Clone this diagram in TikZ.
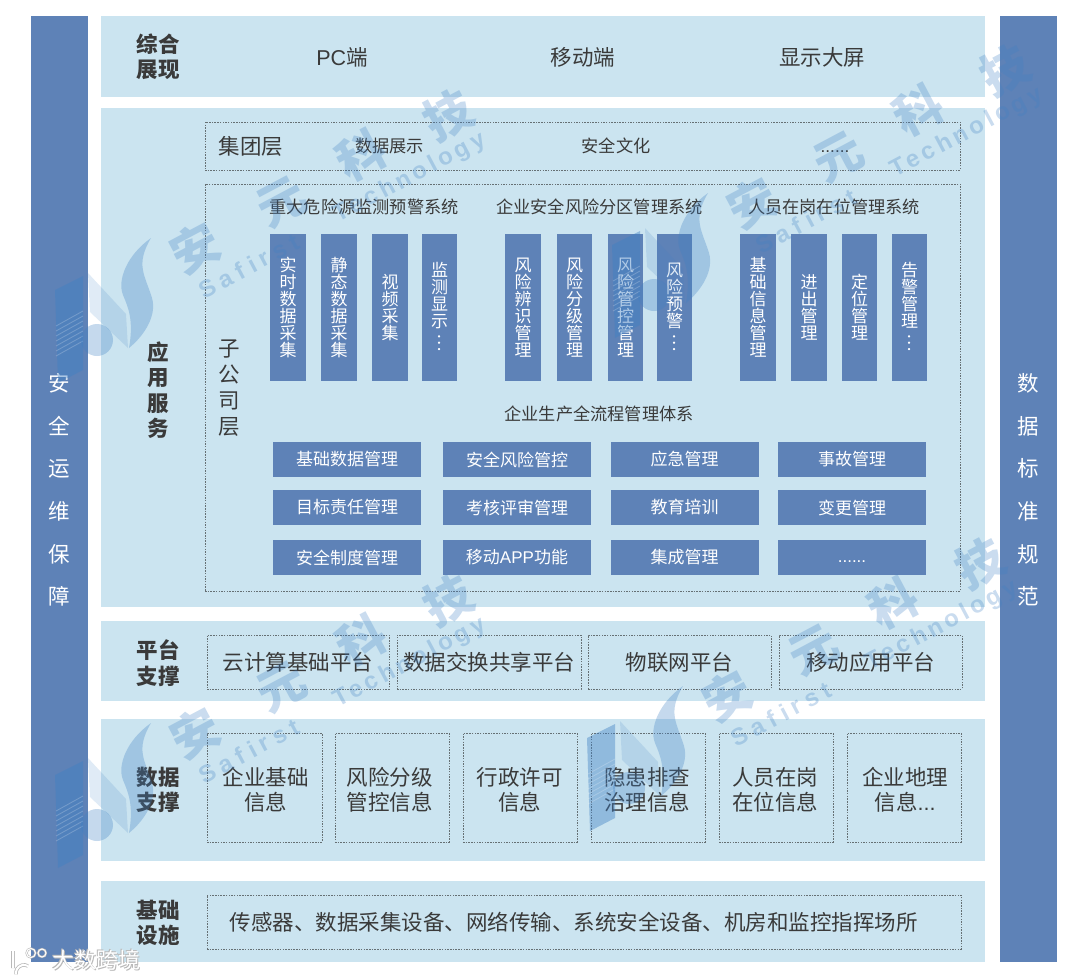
\documentclass[tikz,border=0pt]{standalone}
\usepackage{fontspec}
\setmainfont{Noto Sans CJK SC}
\newfontfamily\latinfont{Liberation Sans}
\definecolor{panelblue}{HTML}{CBE4F0}
\definecolor{barblue}{HTML}{5E82B7}
\definecolor{inktext}{HTML}{3A3A3A}
\definecolor{dashgray}{HTML}{667074}
\definecolor{wmblue}{HTML}{3F80C4}
\newcommand{\vdotsbar}{\rotatebox[origin=c]{90}{…}}
\tikzset{
  panel/.style={fill=panelblue, inner sep=0pt, outer sep=0pt},
  sidebar/.style={fill=barblue, text=white, inner sep=0pt, align=center,
                  minimum width=57pt, minimum height=946pt,
                  font=\fontsize{21.5}{42.6}\selectfont},
  rowlabel/.style={text=inktext, inner sep=0pt, align=center,
                   font=\fontsize{21.5}{25.5}\selectfont\bfseries},
  bigtext/.style={text=inktext, inner sep=0pt, align=center,
                  font=\fontsize{21.5}{25}\selectfont},
  midtext/.style={text=inktext, inner sep=0pt, align=center,
                  font=\fontsize{17.2}{20}\selectfont},
  dashbox/.style={draw=dashgray, dash pattern=on 1.5pt off 1.2pt, line width=0.5pt,
                  inner sep=0pt, align=center, text=inktext,
                  font=\fontsize{21.5}{25}\selectfont},
  vbar/.style={fill=barblue, text=white, inner sep=0pt, align=center,
               minimum width=35.5pt, minimum height=147pt,
               font=\fontsize{17}{17}\selectfont},
  hcell/.style={fill=barblue, text=white, inner sep=0pt,
                minimum width=148pt, minimum height=35pt,
                font=\fontsize{17}{20}\selectfont},
  wmchar/.style={text=wmblue, text opacity=0.28, inner sep=0pt, rotate=28,
                 font=\fontsize{48}{50}\selectfont\bfseries},
  wmword/.style={text=wmblue, text opacity=0.28, inner sep=0pt, rotate=28},
  cornertext/.style={inner sep=0pt, font=\fontsize{22}{24}\selectfont},
  pics/wmark/.style={code={
    \fill[wmblue, opacity=0.42] (0,0) -- (28,-14) -- (28,80) -- (3,93) -- cycle;
    \foreach \i in {0,...,6}
      \draw[white, opacity=0.2, line width=0.9pt] (1,36+5*\i) -- (28,21+5*\i);
    \fill[wmblue, opacity=0.16] (33,-17) -- (71,24) -- (73,58) -- (35,22) -- cycle;
    \fill[wmblue, opacity=0.3] (42,50) circle (16);
    \fill[wmblue, opacity=0.3] (96,-52) .. controls (72,-35) and (62,-10) .. (68,5)
      .. controls (73,17) and (79,30) .. (74,58)
      .. controls (90,45) and (102,25) .. (97,8)
      .. controls (90,-15) and (80,-25) .. (96,-52) -- cycle;
    \node[wmchar] (c1) at (140,-42) {安};
    \node[wmchar] (c2) at (227,-88) {元};
    \node[wmchar] (c3) at (306,-135) {科};
    \node[wmchar] (c4) at (393,-175) {技};
    \node[wmword, font={\fontsize{24}{26}\latinfont\addfontfeature{LetterSpace=24}\bfseries}] (w1) at (194,-24) {Safirst};
    \node[wmword, font={\fontsize{24}{26}\latinfont\addfontfeature{LetterSpace=16}\bfseries}] (w2) at (355,-112) {Technology};
  }},
}

\begin{document}
\begin{tikzpicture}[x=1pt, y=-1pt]
    \useasboundingbox (0,0) rectangle (1080,980);
    % side bars
    \node[sidebar] (leftbar) at (59.5,489) {};
    \node[sidebar] (rightbar) at (1028.5,489) {};
    \node[sidebar, fill=none, minimum height=0pt] (lefttext) at (59.5,490) {安\\全\\运\\维\\保\\障};
    \node[sidebar, fill=none, minimum height=0pt] (righttext) at (1028.5,490) {数\\据\\标\\准\\规\\范};
    % layers
    \node[panel, minimum width=884pt, minimum height=81pt] (show) at (543,56.5) {};
    \node[panel, minimum width=884pt, minimum height=499pt] (app) at (543,357.5) {};
    \node[panel, minimum width=884pt, minimum height=80pt] (plat) at (543,661) {};
    \node[panel, minimum width=884pt, minimum height=142pt] (data) at (543,790) {};
    \node[panel, minimum width=884pt, minimum height=81pt] (base) at (543,921.5) {};
    \node[rowlabel] (showlabel) at (158,57) {综合\\展现};
    \node[rowlabel] (applabel) at (158,390) {应\\用\\服\\务};
    \node[rowlabel] (platlabel) at (158,663) {平台\\支撑};
    \node[rowlabel] (datalabel) at (158,790) {数据\\支撑};
    \node[rowlabel] (baselabel) at (158,923) {基础\\设施};
    % top row
    \node[bigtext] (pc) at (342,57) {{\latinfont PC}端};
    \node[bigtext] (mobile) at (583,57) {移动端};
    \node[bigtext] (screen) at (822,57) {显示大屏};
    % group level
    \node[dashbox, minimum width=755pt, minimum height=48pt] (group) at (582.5,146) {};
    \node[bigtext] (grouplabel) at (251,146) {集团层};
    \node[midtext] (g1) at (389.5,146) {数据展示};
    \node[midtext] (g2) at (616,146) {安全文化};
    \node[midtext] (g3) at (835,146) {\raisebox{-6pt}[0pt][0pt]{\latinfont ......}};
    % subsidiary level
    \node[dashbox, minimum width=755pt, minimum height=407pt] (sub) at (582.5,387.5) {};
    \node[bigtext, font=\fontsize{21.5}{26}\selectfont] (sublabel) at (229,388) {子\\公\\司\\层};
    \node[midtext] (sys1) at (364,207) {重大危险源监测预警系统};
    \node[midtext] (sys2) at (599.5,207) {企业安全风险分区管理系统};
    \node[midtext] (sys3) at (834,207) {人员在岗在位管理系统};
    \node[vbar] (a1) at (288,307.5) {实\\时\\数\\据\\采\\集};
    \node[vbar] (a2) at (339,307.5) {静\\态\\数\\据\\采\\集};
    \node[vbar] (a3) at (390,307.5) {视\\频\\采\\集};
    \node[vbar] (a4) at (439.5,307.5) {监\\测\\显\\示\\\vdotsbar};
    \node[vbar] (b1) at (523,307.5) {风\\险\\辨\\识\\管\\理};
    \node[vbar] (b2) at (574.5,307.5) {风\\险\\分\\级\\管\\理};
    \node[vbar] (b3) at (625.5,307.5) {风\\险\\管\\控\\管\\理};
    \node[vbar] (b4) at (674.5,307.5) {风\\险\\预\\警\\\vdotsbar};
    \node[vbar] (c1) at (758,307.5) {基\\础\\信\\息\\管\\理};
    \node[vbar] (c2) at (809,307.5) {进\\出\\管\\理};
    \node[vbar] (c3) at (859.5,307.5) {定\\位\\管\\理};
    \node[vbar] (c4) at (909.5,307.5) {告\\警\\管\\理\\\vdotsbar};
    \node[midtext] (flow) at (599,414) {企业生产全流程管理体系};
    \node[hcell] (d1) at (347,459.5) {基础数据管理};
    \node[hcell] (d2) at (517,459.5) {安全风险管控};
    \node[hcell] (d3) at (684.5,459.5) {应急管理};
    \node[hcell] (d4) at (852,459.5) {事故管理};
    \node[hcell] (e1) at (347,507.5) {目标责任管理};
    \node[hcell] (e2) at (517,507.5) {考核评审管理};
    \node[hcell] (e3) at (684.5,507.5) {教育培训};
    \node[hcell] (e4) at (852,507.5) {变更管理};
    \node[hcell] (f1) at (347,557.5) {安全制度管理};
    \node[hcell] (f2) at (517,557.5) {移动{\latinfont APP}功能};
    \node[hcell] (f3) at (684.5,557.5) {集成管理};
    \node[hcell] (f4) at (852,557.5) {\raisebox{-5pt}[0pt][0pt]{\latinfont ......}};
    % platform
    \node[dashbox, minimum width=182pt, minimum height=54pt] (p1) at (298,662) {云计算基础平台};
    \node[dashbox, minimum width=184pt, minimum height=54pt] (p2) at (489,662) {数据交换共享平台};
    \node[dashbox, minimum width=183pt, minimum height=54pt] (p3) at (679.5,662) {物联网平台};
    \node[dashbox, minimum width=183pt, minimum height=54pt] (p4) at (870.5,662) {移动应用平台};
    % data
    \node[dashbox, minimum width=115pt, minimum height=109pt] (s1) at (264.5,787.5) {};
    \node[dashbox, minimum width=114pt, minimum height=109pt] (s2) at (392,787.5) {};
    \node[dashbox, minimum width=114pt, minimum height=109pt] (s3) at (520,787.5) {};
    \node[dashbox, minimum width=114pt, minimum height=109pt] (s4) at (648,787.5) {};
    \node[dashbox, minimum width=114pt, minimum height=109pt] (s5) at (776,787.5) {};
    \node[dashbox, minimum width=114pt, minimum height=109pt] (s6) at (904,787.5) {};
    \node[bigtext] (t1) at (265.5,790) {企业基础\\信息};
    \node[bigtext] (t2) at (389.5,790) {风险分级\\管控信息};
    \node[bigtext] (t3) at (519.5,790) {行政许可\\信息};
    \node[bigtext] (t4) at (647,790) {隐患排查\\治理信息};
    \node[bigtext] (t5) at (775,790) {人员在岗\\在位信息};
    \node[bigtext] (t6) at (905,790) {企业地理\\信息{\latinfont ...}};
    % base
    \node[dashbox, minimum width=754pt, minimum height=54pt] (b) at (584,922) {};
    \node[bigtext] (btext) at (573.5,922) {传感器、数据采集设备、网络传输、系统安全设备、机房和监控指挥场所};
    % watermarks
    \pic (wma) at (55,290) {wmark};
    \pic (wmb) at (55,775) {wmark};
    \pic (wmc) at (612,245) {wmark};
    \pic (wmd) at (587,738) {wmark};
    % corner mark
    \node[cornertext, text=gray!55] (cornera) at (97.5,961.5) {大数跨境};
    \node[cornertext, text=gray!55] (cornerb) at (95.5,959.5) {大数跨境};
    \node[cornertext, text=white] (cornerc) at (96.5,960.5) {大数跨境};
    \draw[gray!55, line width=3.6pt] (13,951) -- (13,968) (28,966) arc (-60:-190:8);
    \draw[white, line width=2pt] (13,951) -- (13,968) (28,966) arc (-60:-190:8);
    \draw[gray!55, line width=2.2pt] (31,953) circle (4.5) (42,953) circle (4);
    \draw[white, line width=1pt] (31,953) circle (4.5) (42,953) circle (4);
\end{tikzpicture}
\end{document}
